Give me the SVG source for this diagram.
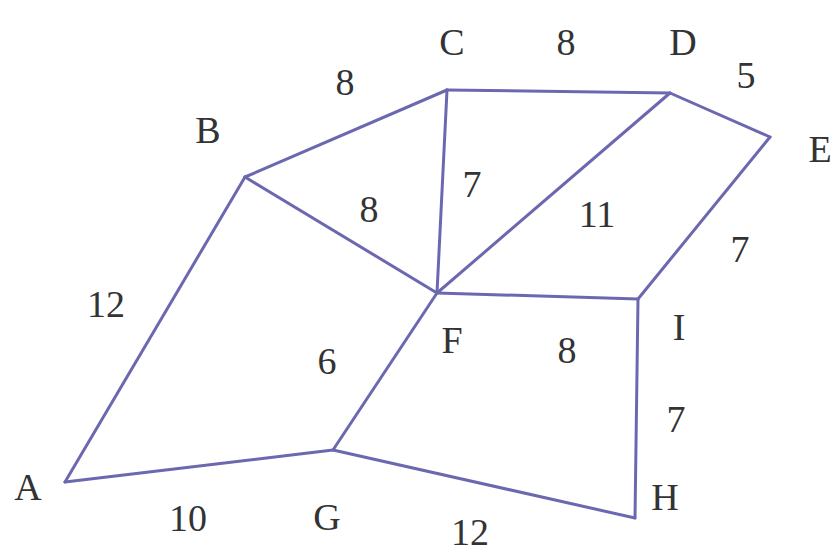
<svg xmlns="http://www.w3.org/2000/svg" width="837" height="553" viewBox="0 0 837 553">
<style>
.e{stroke:#6b68b0;stroke-width:3;stroke-linecap:round;fill:none}
.t{font-family:"Liberation Serif",serif;font-size:38px;fill:#333;text-anchor:middle}
</style>
<rect width="837" height="553" fill="#fff"/>
<g id="connectors">
<line class="e" x1="65" y1="482" x2="245" y2="177"/>
<line class="e" x1="245" y1="177" x2="447" y2="90"/>
<line class="e" x1="447" y1="90" x2="670" y2="93"/>
<line class="e" x1="670" y1="93" x2="770" y2="137"/>
<line class="e" x1="770" y1="137" x2="638" y2="299"/>
<line class="e" x1="245" y1="177" x2="437" y2="293"/>
<line class="e" x1="447" y1="90" x2="437" y2="293"/>
<line class="e" x1="670" y1="93" x2="437" y2="293"/>
<line class="e" x1="437" y1="293" x2="638" y2="299"/>
<line class="e" x1="437" y1="293" x2="333" y2="450"/>
<line class="e" x1="65" y1="482" x2="333" y2="450"/>
<line class="e" x1="333" y1="450" x2="635" y2="518"/>
<line class="e" x1="638" y1="299" x2="635" y2="518"/>
<text class="t" x="106" y="317">12</text>
<text class="t" x="345" y="95">8</text>
<text class="t" x="566" y="55">8</text>
<text class="t" x="746" y="88">5</text>
<text class="t" x="740" y="262">7</text>
<text class="t" x="369" y="222">8</text>
<text class="t" x="472" y="197">7</text>
<text class="t" x="597" y="227">11</text>
<text class="t" x="567" y="363">8</text>
<text class="t" x="327" y="374">6</text>
<text class="t" x="188" y="531">10</text>
<text class="t" x="470" y="545">12</text>
<text class="t" x="676" y="432">7</text>
</g>
<g id="A"><text class="t" x="28" y="500">A</text></g>
<g id="B"><text class="t" x="208" y="143">B</text></g>
<g id="C"><text class="t" x="452" y="55">C</text></g>
<g id="D"><text class="t" x="683" y="55">D</text></g>
<g id="E"><text class="t" x="820" y="162">E</text></g>
<g id="F"><text class="t" x="452" y="353">F</text></g>
<g id="G"><text class="t" x="327" y="530">G</text></g>
<g id="H"><text class="t" x="665" y="510">H</text></g>
<g id="I"><text class="t" x="679" y="340">I</text></g>
</svg>
